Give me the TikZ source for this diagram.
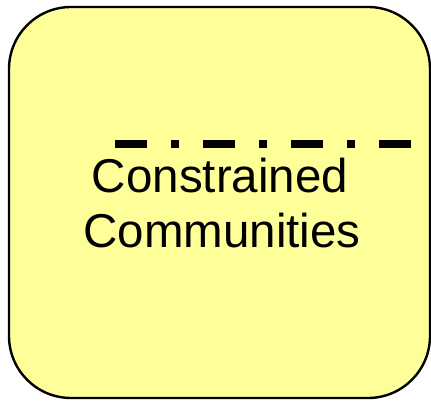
\documentclass[tikz,border=0pt]{standalone}
\usepackage{fontspec}
\setmainfont{Liberation Sans}
\definecolor{boxfill}{RGB}{255,255,153}
\tikzset{
  groupbox/.style={draw=black, line width=2.4pt, fill=boxfill, rounded corners=62pt},
  caption/.style={font=\fontsize{47.5pt}{55pt}\selectfont, align=center, inner sep=0pt},
  divider/.style={line width=8.5pt, dash pattern=on 32pt off 24pt on 8pt off 24pt}
}
\begin{document}
\begin{tikzpicture}[x=1pt,y=1pt]
  \useasboundingbox (0,0) rectangle (431,401);
  % rounded group box
  \draw[groupbox] (9,3) rectangle (430,394);
  % dash-dot divider
  \coordinate (divL) at (115,257);
  \coordinate (divR) at (412,257);
  \draw[divider] (divL) -- (divR);
  % caption
  \node[caption, anchor=base] (cap1) at (220,208) {Constrained};
  \node[caption, anchor=base] (cap2) at (222,153) {Communities};
\end{tikzpicture}
\end{document}
